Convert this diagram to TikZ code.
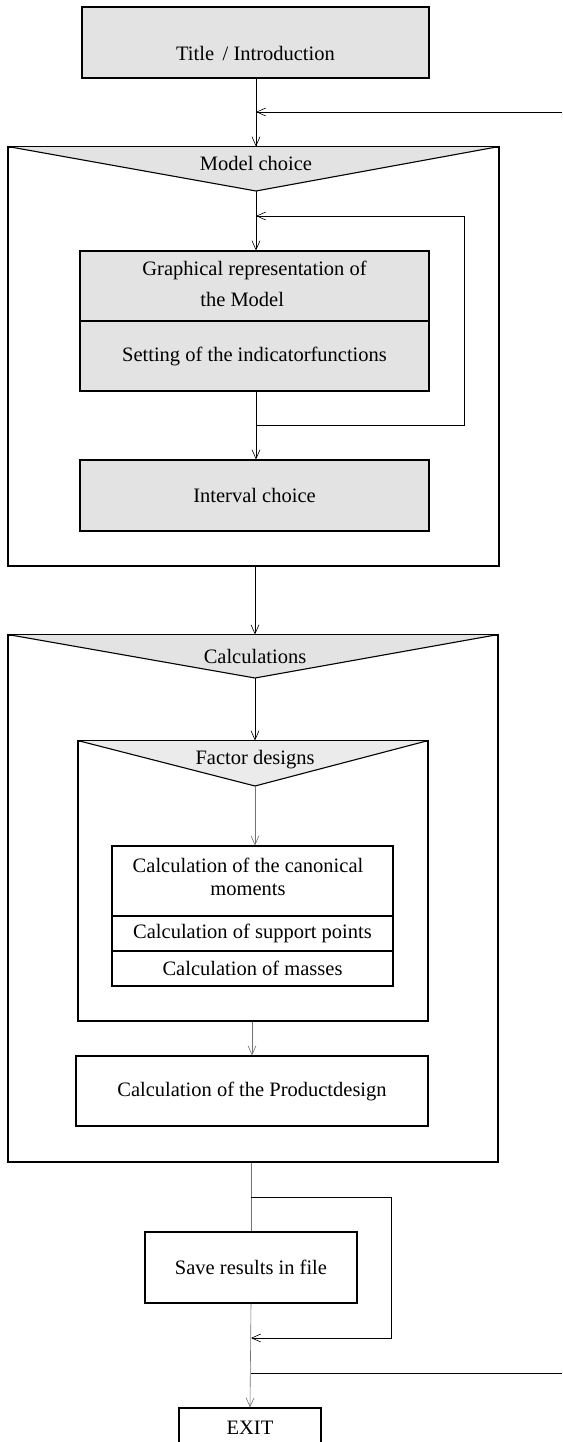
\documentclass[tikz,border=0pt]{standalone}
\usepackage{fontspec}
\setmainfont{Liberation Serif}
\usetikzlibrary{arrows.meta}
\begin{document}
\begin{tikzpicture}[x=1pt,y=-1pt,
  every node/.style={font=\fontsize{20.5}{25}\selectfont, align=center, inner sep=0pt},
  box/.style={draw, line width=1.1pt, rectangle},
  shade/.style={fill=black!11},
  conn/.style={line width=0.6pt},
  arr/.style={conn, -{Straight Barb[length=9pt,width=8pt,line width=0.6pt]}},
  faint/.style={draw=black!55}
]
\useasboundingbox (0,0) rectangle (562,1442);

% ---- title
\node[box, shade, minimum width=347, minimum height=71] (title) at (255.5,42.5) {};
\node (titletext) at (255.5,53) {Title\, / Introduction};

% ---- model choice block
\node[box, minimum width=491, minimum height=419] (modelouter) at (253.5,356.5) {};
\coordinate (mapex) at (256,191);
\fill[shade] (modelouter.north west) -- (modelouter.north east) -- (mapex) -- cycle;
\draw[line width=1.1pt] (modelouter.north west) -- (mapex) -- (modelouter.north east);
\draw[line width=1.1pt] (modelouter.north west) rectangle (modelouter.south east);
\node (modeltext) at (256,163) {Model choice};

\node[box, shade, minimum width=349, minimum height=70] (graphA) at (254.5,286) {};
\node[font=\fontsize{20.5}{31}\selectfont] (graphAtext) at (254.5,284)
  {Graphical representation of\\the Model\hspace*{1.2em}};
\node[box, shade, minimum width=349, minimum height=70] (graphB) at (254.5,356)
  {Setting of the indicatorfunctions};
\node[box, shade, minimum width=349, minimum height=71] (interval) at (254.5,495.5)
  {Interval choice};

% ---- calculations block
\node[box, minimum width=490, minimum height=527] (calcouter) at (253,898.5) {};
\coordinate (capex) at (255,678);
\fill[shade] (calcouter.north west) -- (calcouter.north east) -- (capex) -- cycle;
\draw[line width=1.1pt] (calcouter.north west) -- (capex) -- (calcouter.north east);
\draw[line width=1.1pt] (calcouter.north west) rectangle (calcouter.south east);
\node (calctext) at (255,656) {Calculations};

\node[box, minimum width=350, minimum height=280] (factor) at (253,881) {};
\coordinate (fapex) at (255,786);
\fill[black!8] (factor.north west) -- (factor.north east) -- (fapex) -- cycle;
\draw[line width=1.1pt] (factor.north west) -- (fapex) -- (factor.north east);
\draw[line width=1.1pt] (factor.north west) rectangle (factor.south east);
\node (factortext) at (255,760) {Factor designs};

\node[box, minimum width=281, minimum height=70] (canon) at (252.5,881) {};
\node[font=\fontsize{20.5}{23}\selectfont] (canontext) at (248,876.5)
  {Calculation of the canonical\\moments};
\node[box, minimum width=281, minimum height=35] (support) at (252.5,933.5)
  {Calculation of support points};
\node[box, minimum width=281, minimum height=35] (masses) at (252.5,968.5)
  {Calculation of masses};

\node[box, minimum width=352, minimum height=70] (product) at (252,1091)
  {Calculation of the Productdesign};

% ---- bottom
\node[box, minimum width=212, minimum height=71] (save) at (251,1267.5)
  {Save results in file};
\node[box, minimum width=142, minimum height=40] (exit) at (250,1428) {EXIT};

% ---- connectors
\coordinate (rin) at (562,112);
\draw[conn] (title.south -| mapex) -- (modelouter.north -| mapex);
\draw[arr] (rin) -- (rin -| mapex);
\draw[arr] (rin -| mapex) -- (modelouter.north -| mapex);
\draw[arr] (mapex) -- (graphA.north -| mapex);
\coordinate (lt) at (256,216);
\coordinate (lb) at (256,425);
\draw[arr] (lb) -- ++(208,0) |- (lt);
\draw[arr] (graphB.south -| mapex) -- (interval.north -| mapex);

\draw[arr] (modelouter.south -| capex) -- (calcouter.north -| capex);
\draw[arr] (capex) -- (factor.north -| capex);
\draw[arr, faint] (fapex) -- (canon.north -| fapex);
\draw[arr, faint] (factor.south -| product) -- (product.north);

\coordinate (st) at (251,1197);
\coordinate (sb) at (251,1338);
\coordinate (rout) at (562,1373);
\draw[conn, faint] (calcouter.south -| save) -- (save.north);
\draw[arr] (st) -- ++(140,0) |- (sb);
\draw[arr, faint] (save.south) -- (exit.north);
\draw[conn] (save.south |- rout) -- (rout);
\end{tikzpicture}
\end{document}
